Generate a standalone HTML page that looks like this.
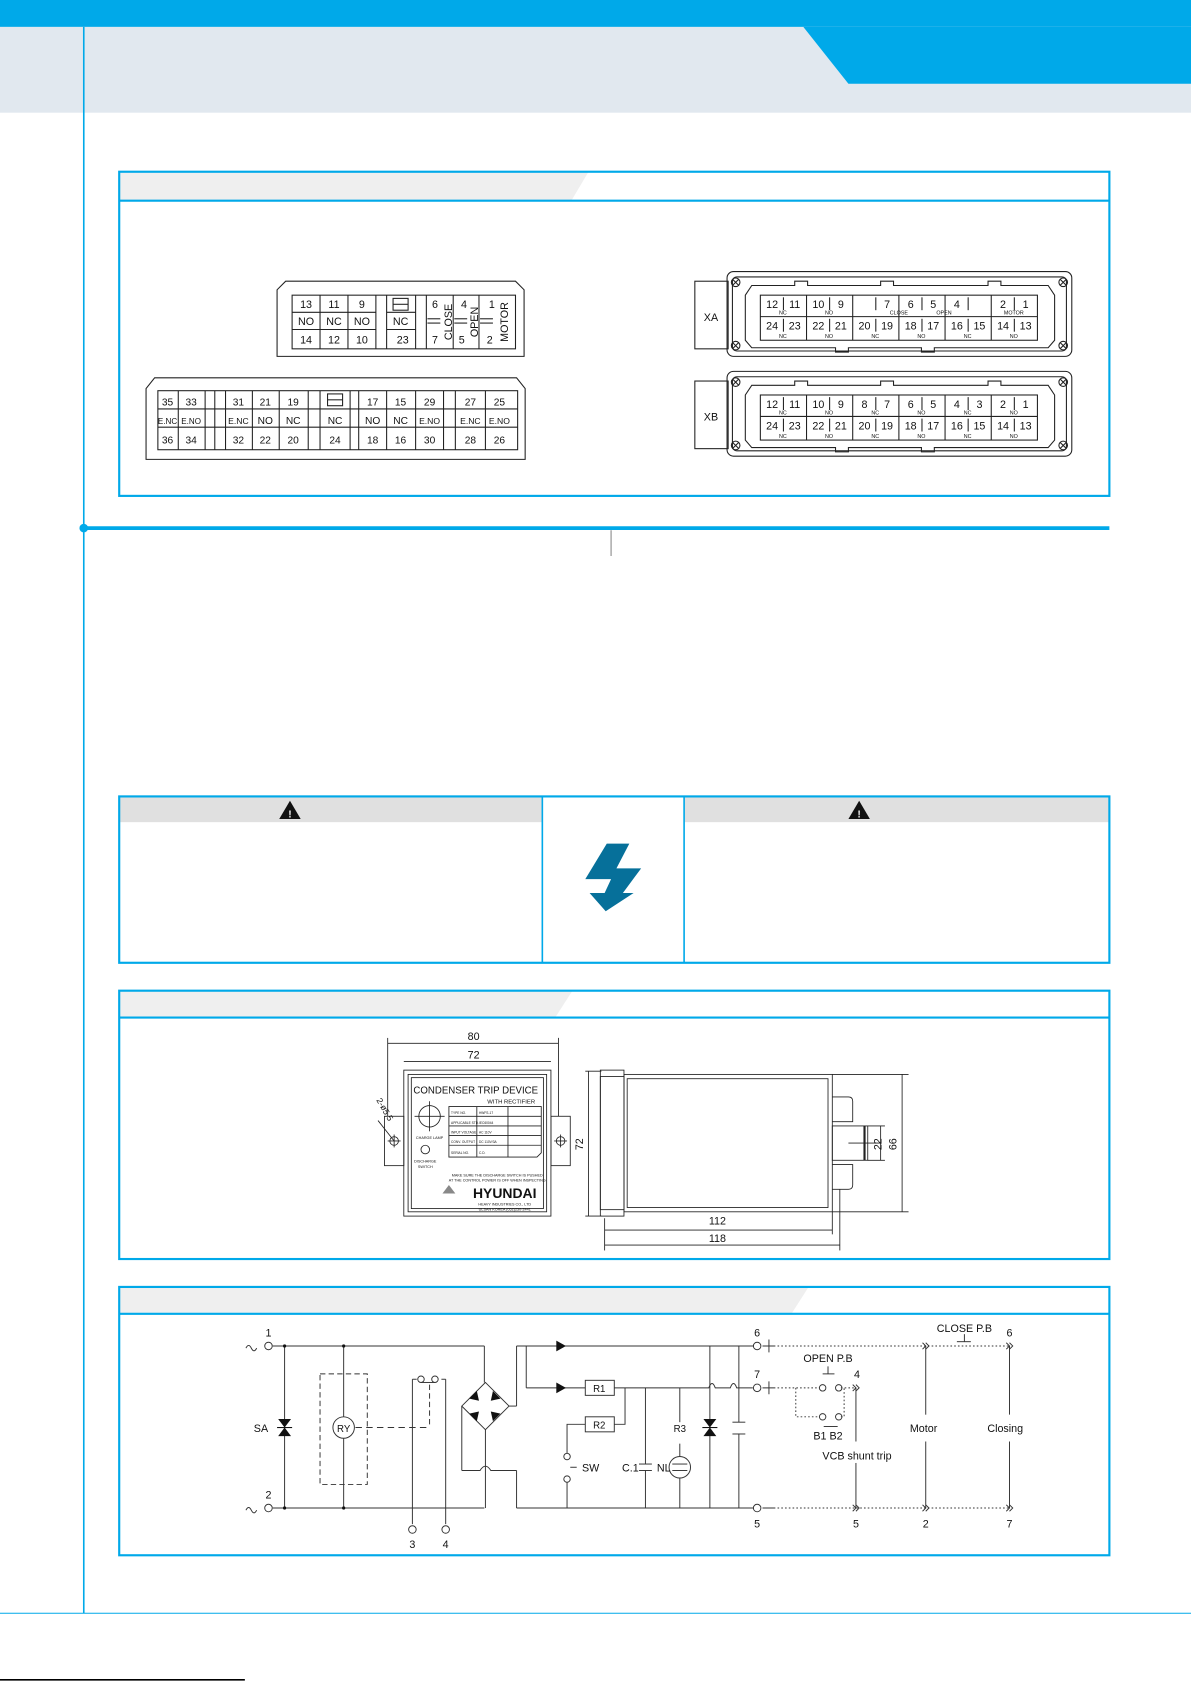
<!DOCTYPE html>
<html><head><meta charset="utf-8"><style>
html,body{margin:0;padding:0;background:#fff;}
svg{display:block;}
text{font-family:"Liberation Sans",sans-serif;fill:#111;}
</style></head><body>
<svg width="1191" height="1683" viewBox="0 0 1109 1568" preserveAspectRatio="none" xmlns="http://www.w3.org/2000/svg">
<rect x="0" y="0" width="1109" height="105" fill="#e1e8ef"/>
<rect x="0" y="0" width="1109" height="25" fill="#00a9e9"/>
<polygon points="748,25 1109,25 1109,78 790,78" fill="#00a9e9"/>
<line x1="78" y1="25" x2="78" y2="1503" stroke="#00a9e9" stroke-width="1.5"/>
<line x1="0" y1="1503" x2="1109" y2="1503" stroke="#00a9e9" stroke-width="1"/>
<line x1="0" y1="1565" x2="228" y2="1565" stroke="#000" stroke-width="1.5"/>

<polygon points="111,160 548,160 532,187 111,187" fill="#efefef"/>
<rect x="111" y="160" width="922" height="302" fill="none" stroke="#00a9e9" stroke-width="2"/>
<line x1="111" y1="187" x2="1033" y2="187" stroke="#00a9e9" stroke-width="2"/>

<g stroke="#222" fill="none" stroke-width="1">
<polygon points="258,332 258,270 266,262 480,262 488,270 488,332"/>
<rect x="272" y="275" width="208" height="50"/>
<line x1="272" y1="291" x2="350" y2="291"/><line x1="272" y1="307" x2="350" y2="307"/>
<line x1="360" y1="291" x2="387" y2="291"/><line x1="360" y1="307" x2="387" y2="307"/>
<line x1="298" y1="275" x2="298" y2="325"/><line x1="324" y1="275" x2="324" y2="325"/><line x1="350" y1="275" x2="350" y2="325"/>
<line x1="360" y1="275" x2="360" y2="325"/><line x1="387" y1="275" x2="387" y2="325"/><line x1="397" y1="275" x2="397" y2="325"/>
<line x1="422" y1="275" x2="422" y2="325"/><line x1="446" y1="275" x2="446" y2="325"/>
<rect x="366" y="278" width="14" height="11"/><line x1="366" y1="283.5" x2="380" y2="283.5"/>
<line x1="398" y1="297" x2="410" y2="297"/><line x1="398" y1="301" x2="410" y2="301"/>
<line x1="423" y1="297" x2="435" y2="297"/><line x1="423" y1="301" x2="435" y2="301"/>
<line x1="447" y1="297" x2="459" y2="297"/><line x1="447" y1="301" x2="459" y2="301"/>
<polygon points="136,428 136,362 144,352 481,352 489,362 489,428"/>
<rect x="147" y="364" width="335" height="55"/>
<line x1="147" y1="381" x2="482" y2="381"/><line x1="147" y1="398" x2="482" y2="398"/>
<line x1="166" y1="364" x2="166" y2="419"/><line x1="191" y1="364" x2="191" y2="419"/><line x1="200" y1="364" x2="200" y2="419"/>
<line x1="210" y1="364" x2="210" y2="419"/><line x1="235" y1="364" x2="235" y2="419"/><line x1="260" y1="364" x2="260" y2="419"/>
<line x1="287" y1="364" x2="287" y2="419"/><line x1="298" y1="364" x2="298" y2="419"/><line x1="326" y1="364" x2="326" y2="419"/>
<line x1="334" y1="364" x2="334" y2="419"/><line x1="360" y1="364" x2="360" y2="419"/><line x1="387" y1="364" x2="387" y2="419"/>
<line x1="413" y1="364" x2="413" y2="419"/><line x1="424" y1="364" x2="424" y2="419"/><line x1="452" y1="364" x2="452" y2="419"/>
<rect x="305" y="367" width="14" height="11"/><line x1="305" y1="372.5" x2="319" y2="372.5"/>
</g>
<g font-size="10" text-anchor="middle">
<text x="285" y="287">13</text><text x="311" y="287">11</text><text x="337" y="287">9</text>
<text x="285" y="303">NO</text><text x="311" y="303">NC</text><text x="337" y="303">NO</text><text x="373" y="303">NC</text>
<text x="285" y="320">14</text><text x="311" y="320">12</text><text x="337" y="320">10</text><text x="375" y="320">23</text>
<text x="405" y="287">6</text><text x="405" y="320">7</text><text x="432" y="287">4</text><text x="430" y="320">5</text><text x="458" y="287">1</text><text x="456" y="320">2</text>
<text transform="translate(421,300) rotate(-90)">CLOSE</text>
<text transform="translate(445,300) rotate(-90)">OPEN</text>
<text transform="translate(473,300) rotate(-90)">MOTOR</text>
</g>
<g font-size="9.5" text-anchor="middle">
<text x="156" y="378">35</text><text x="178" y="378">33</text><text x="222" y="378">31</text><text x="247" y="378">21</text><text x="273" y="378">19</text>
<text x="347" y="378">17</text><text x="373" y="378">15</text><text x="400" y="378">29</text><text x="438" y="378">27</text><text x="465" y="378">25</text>
<text x="156" y="395" font-size="7.5">E.NC</text><text x="178" y="395" font-size="7.5">E.NO</text><text x="222" y="395" font-size="8">E.NC</text><text x="247" y="395">NO</text><text x="273" y="395">NC</text><text x="312" y="395">NC</text>
<text x="347" y="395">NO</text><text x="373" y="395">NC</text><text x="400" y="395" font-size="8">E.NO</text><text x="438" y="395" font-size="8">E.NC</text><text x="465" y="395" font-size="8">E.NO</text>
<text x="156" y="413">36</text><text x="178" y="413">34</text><text x="222" y="413">32</text><text x="247" y="413">22</text><text x="273" y="413">20</text><text x="312" y="413">24</text>
<text x="347" y="413">18</text><text x="373" y="413">16</text><text x="400" y="413">30</text><text x="438" y="413">28</text><text x="465" y="413">26</text>
</g>

<defs>
<g id="body" stroke="#222" fill="none" stroke-width="1">
<rect x="647" y="262" width="31" height="63"/>
<rect x="677" y="253" width="321" height="79" rx="6"/>
<rect x="682" y="258" width="311" height="69" rx="4"/>
<polygon points="700,266 740,266 740,262 752,262 752,266 820,266 820,262 832,262 832,266 920,266 920,262 932,262 932,266 976,266 982,275 982,317 976,324 870,324 870,328 858,328 858,324 790,324 790,328 778,328 778,324 700,324 694,317 694,275"/>
<rect x="708" y="275" width="258" height="42"/>
<line x1="708" y1="295" x2="966" y2="295"/>
<line x1="751" y1="275" x2="751" y2="317"/><line x1="794" y1="275" x2="794" y2="317"/><line x1="837" y1="275" x2="837" y2="317"/><line x1="880" y1="275" x2="880" y2="317"/><line x1="923" y1="275" x2="923" y2="317"/>
<line x1="729.5" y1="277" x2="729.5" y2="289"/><line x1="772.5" y1="277" x2="772.5" y2="289"/><line x1="815.5" y1="277" x2="815.5" y2="289"/><line x1="858.5" y1="277" x2="858.5" y2="289"/><line x1="901.5" y1="277" x2="901.5" y2="289"/><line x1="944.5" y1="277" x2="944.5" y2="289"/>
<line x1="729.5" y1="297" x2="729.5" y2="309"/><line x1="772.5" y1="297" x2="772.5" y2="309"/><line x1="815.5" y1="297" x2="815.5" y2="309"/><line x1="858.5" y1="297" x2="858.5" y2="309"/><line x1="901.5" y1="297" x2="901.5" y2="309"/><line x1="944.5" y1="297" x2="944.5" y2="309"/>
<circle cx="685" cy="263" r="4"/><circle cx="990" cy="263" r="4"/><circle cx="685" cy="322" r="4"/><circle cx="990" cy="322" r="4"/>
<path d="M682,260 l6,6 M688,260 l-6,6 M987,260 l6,6 M993,260 l-6,6 M682,319 l6,6 M688,319 l-6,6 M987,319 l6,6 M993,319 l-6,6"/>
</g>
<g id="bot" font-size="10" text-anchor="middle">
<text x="719" y="307">24</text><text x="740" y="307">23</text><text x="762" y="307">22</text><text x="783" y="307">21</text><text x="805" y="307">20</text><text x="826" y="307">19</text><text x="848" y="307">18</text><text x="869" y="307">17</text><text x="891" y="307">16</text><text x="912" y="307">15</text><text x="934" y="307">14</text><text x="955" y="307">13</text>
<g font-size="5"><text x="729" y="315">NC</text><text x="772" y="315">NO</text><text x="815" y="315">NC</text><text x="858" y="315">NO</text><text x="901" y="315">NC</text><text x="944" y="315">NO</text></g>
</g>
</defs>
<use href="#body"/><use href="#bot"/>
<g transform="translate(0,93)"><use href="#body"/><use href="#bot"/></g>
<text x="662" y="299" font-size="10" text-anchor="middle">XA</text>
<text x="662" y="392" font-size="10" text-anchor="middle">XB</text>
<g font-size="10" text-anchor="middle">
<text x="719" y="287">12</text><text x="740" y="287">11</text><text x="762" y="287">10</text><text x="783" y="287">9</text><text x="826" y="287">7</text><text x="848" y="287">6</text><text x="869" y="287">5</text><text x="891" y="287">4</text><text x="934" y="287">2</text><text x="955" y="287">1</text>
<g font-size="5"><text x="729" y="293">NC</text><text x="772" y="293">NO</text><text x="837" y="293">CLOSE</text><text x="879" y="293">OPEN</text><text x="944" y="293">MOTOR</text></g>
<text x="719" y="380">12</text><text x="740" y="380">11</text><text x="762" y="380">10</text><text x="783" y="380">9</text><text x="805" y="380">8</text><text x="826" y="380">7</text><text x="848" y="380">6</text><text x="869" y="380">5</text><text x="891" y="380">4</text><text x="912" y="380">3</text><text x="934" y="380">2</text><text x="955" y="380">1</text>
<g font-size="5"><text x="729" y="386">NC</text><text x="772" y="386">NO</text><text x="815" y="386">NC</text><text x="858" y="386">NO</text><text x="901" y="386">NC</text><text x="944" y="386">NO</text></g>
</g>

<line x1="78" y1="492" x2="1033" y2="492" stroke="#00a9e9" stroke-width="3.5"/>
<circle cx="78" cy="492" r="4" fill="#00a9e9"/>
<line x1="569" y1="494" x2="569" y2="518" stroke="#888" stroke-width="1"/>

<rect x="111" y="742" width="394" height="24" fill="#e0e0e0"/>
<rect x="637" y="742" width="396" height="24" fill="#e0e0e0"/>
<rect x="111" y="742" width="922" height="155" fill="none" stroke="#00a9e9" stroke-width="2"/>
<line x1="505" y1="742" x2="505" y2="897" stroke="#00a9e9" stroke-width="1.5"/>
<line x1="637" y1="742" x2="637" y2="897" stroke="#00a9e9" stroke-width="1.5"/>
<polygon points="270,746 280,763 260,763" fill="#111"/><text x="270" y="761.5" font-size="9" text-anchor="middle" style="fill:#fff;font-weight:bold">!</text>
<polygon points="800,746 810,763 790,763" fill="#111"/><text x="800" y="761.5" font-size="9" text-anchor="middle" style="fill:#fff;font-weight:bold">!</text>
<polygon points="565,786 586,786 574,809 597,809 580,832 590,832 564,849 549,832 563,832 569,819 545,819" fill="#06709a"/>

<polygon points="111,923 533,923 517,948 111,948" fill="#efefef"/>
<rect x="111" y="923" width="922" height="250" fill="none" stroke="#00a9e9" stroke-width="2"/>
<line x1="111" y1="948" x2="1033" y2="948" stroke="#00a9e9" stroke-width="2"/>
<g stroke="#222" fill="none" stroke-width="0.8">
<line x1="361" y1="972" x2="520" y2="972"/><line x1="361" y1="967" x2="361" y2="1040"/><line x1="520" y1="967" x2="520" y2="1040"/>
<line x1="376" y1="989" x2="513" y2="989"/>
<rect x="358" y="1040" width="18" height="46"/><rect x="513" y="1040" width="18" height="46"/>
<rect x="376" y="997" width="137" height="136"/>
<rect x="380" y="1001" width="129" height="128"/><rect x="383" y="1004" width="123" height="122"/>
<circle cx="367" cy="1063" r="4"/><circle cx="522" cy="1063" r="4"/>
<line x1="361" y1="1063" x2="373" y2="1063"/><line x1="367" y1="1057" x2="367" y2="1069"/><line x1="516" y1="1063" x2="528" y2="1063"/><line x1="522" y1="1057" x2="522" y2="1069"/>
<line x1="352" y1="1044" x2="367" y2="1063"/>
<circle cx="400" cy="1040" r="10"/><line x1="386" y1="1040" x2="414" y2="1040"/><line x1="400" y1="1026" x2="400" y2="1054"/>
<circle cx="396" cy="1071" r="4"/>
<path d="M418,1031 H473 V1078 H418 Z M418,1040 H473 M418,1049 H473 M418,1058 H473 M418,1067 H473 M444,1031 V1078 M473,1031 H504 V1074 L500,1078 H473"/>
<line x1="473" y1="1040" x2="504" y2="1040"/><line x1="473" y1="1049" x2="504" y2="1049"/><line x1="473" y1="1058" x2="504" y2="1058"/><line x1="473" y1="1067" x2="504" y2="1067"/>
<line x1="548" y1="998" x2="548" y2="1133"/><line x1="545" y1="998" x2="560" y2="998"/><line x1="545" y1="1133" x2="560" y2="1133"/>
<rect x="559" y="997" width="22" height="136"/><rect x="559" y="1003" width="22" height="124"/>
<rect x="581" y="1001" width="194" height="128"/><rect x="584" y="1005" width="187" height="120"/>
<path d="M775,1022 H790 Q794,1022 794,1026 V1045 H775"/><path d="M775,1085 H794 V1104 Q794,1108 790,1108 H775"/>
<rect x="775" y="1049" width="33" height="32"/><line x1="805" y1="1049" x2="805" y2="1081" stroke-width="2"/>
<line x1="775" y1="1001" x2="846" y2="1001"/><line x1="775" y1="1129" x2="846" y2="1129"/><line x1="840" y1="1001" x2="840" y2="1129"/>
<line x1="808" y1="1049" x2="824" y2="1049"/><line x1="808" y1="1081" x2="824" y2="1081"/><line x1="820" y1="1049" x2="820" y2="1081"/><line x1="790" y1="1065" x2="820" y2="1065"/>
<line x1="563" y1="1135" x2="563" y2="1165"/><line x1="775" y1="1129" x2="775" y2="1150"/><line x1="782" y1="1108" x2="782" y2="1165"/>
<line x1="563" y1="1146" x2="775" y2="1146"/><line x1="563" y1="1160" x2="782" y2="1160"/>
</g>
<g text-anchor="middle">
<text x="441" y="969" font-size="10">80</text><text x="441" y="986" font-size="10">72</text>
<text x="443" y="1019" font-size="9">CONDENSER TRIP DEVICE</text>
<text x="476" y="1028" font-size="5.5">WITH RECTIFIER</text>
<text x="400" y="1061" font-size="3.5">CHARGE LAMP</text><text x="396" y="1083" font-size="3.5">DISCHARGE</text><text x="396" y="1088" font-size="3.5">SWITCH</text>
<text x="463" y="1096" font-size="3.5">MAKE SURE THE DISCHARGE SWITCH IS PUSHED</text>
<text x="463" y="1101" font-size="3.5">AT THE CONTROL POWER IS OFF WHEN INSPECTING</text>
<text x="470" y="1116" font-size="13" font-weight="bold">HYUNDAI</text>
<text x="470" y="1123" font-size="3.5">HEAVY INDUSTRIES CO., LTD</text><text x="470" y="1128" font-size="3.5">ULSAN KOREA (052)230-2441</text>
<text x="668" y="1141" font-size="10">112</text><text x="668" y="1157" font-size="10">118</text>
<text transform="translate(543,1066) rotate(-90)" font-size="10">72</text>
<text transform="translate(821,1066) rotate(-90)" font-size="10">22</text>
<text transform="translate(835,1066) rotate(-90)" font-size="10">66</text>
<text transform="translate(356,1035) rotate(60)" font-size="8">2-ø5.5</text>
</g>
<g font-size="3">
<text x="420" y="1038">TYPE NO.</text><text x="446" y="1038">HWFS-17</text>
<text x="420" y="1047">APPLICABLE STD.</text><text x="446" y="1047">IEC60044</text>
<text x="420" y="1056">INPUT VOLTAGE</text><text x="446" y="1056">AC 110V</text>
<text x="420" y="1065">CONV. OUTPUT</text><text x="446" y="1065">DC 110V/3A</text>
<text x="420" y="1075">SERIAL NO.</text><text x="446" y="1075">C.D.</text>
</g>
<polygon points="412,1112 418,1104 424,1112" fill="#888"/>

<polygon points="111,1199 753,1199 737,1224 111,1224" fill="#efefef"/>
<rect x="111" y="1199" width="922" height="250" fill="none" stroke="#00a9e9" stroke-width="2"/>
<line x1="111" y1="1224" x2="1033" y2="1224" stroke="#00a9e9" stroke-width="2"/>
<g stroke="#333" fill="none" stroke-width="0.9">
<circle cx="250" cy="1254" r="3.5"/><circle cx="250" cy="1405" r="3.5"/>
<path d="M229,1256 q2.5,-5 5,0 q2.5,5 5,0"/><path d="M229,1407 q2.5,-5 5,0 q2.5,5 5,0"/>
<line x1="254" y1="1254" x2="451" y2="1254"/><line x1="254" y1="1405" x2="451" y2="1405"/>
<line x1="265" y1="1254" x2="265" y2="1405"/>
<rect x="298" y="1280" width="44" height="103" stroke-dasharray="5,3"/>
<line x1="320" y1="1254" x2="320" y2="1320"/><line x1="320" y1="1340" x2="320" y2="1405"/>
<circle cx="320" cy="1330" r="10"/>
<line x1="331" y1="1330" x2="399" y2="1330" stroke-dasharray="6,4"/>
<line x1="400" y1="1290" x2="400" y2="1330" stroke-dasharray="5,3"/>
<line x1="384" y1="1285" x2="384" y2="1420"/><line x1="415" y1="1285" x2="415" y2="1420"/>
<line x1="384" y1="1285" x2="388" y2="1285"/><line x1="411" y1="1285" x2="415" y2="1285"/>
<circle cx="392" cy="1285" r="3"/><circle cx="405" cy="1285" r="3"/><line x1="392" y1="1288" x2="405" y2="1288"/>
<circle cx="384" cy="1425" r="3.5" fill="#fff"/><circle cx="415" cy="1425" r="3.5" fill="#fff"/>
<line x1="451" y1="1254" x2="451" y2="1288"/>
<polygon points="452,1288 474,1310 452,1332 430,1310"/>
<line x1="452" y1="1332" x2="452" y2="1405"/>
<line x1="430" y1="1310" x2="430" y2="1370"/><path d="M430,1370 H447 q5,-8 10,0 H481"/>
<line x1="474" y1="1310" x2="481" y2="1310"/><line x1="481" y1="1310" x2="481" y2="1254"/>
<line x1="481" y1="1370" x2="481" y2="1405"/>
<line x1="481" y1="1254" x2="702" y2="1254"/><line x1="481" y1="1405" x2="702" y2="1405"/>
<line x1="490" y1="1254" x2="490" y2="1293"/><line x1="490" y1="1293" x2="545" y2="1293"/>
<rect x="545" y="1286" width="27" height="14"/><rect x="545" y="1320" width="27" height="14"/>
<path d="M572,1293 H660 q3,-8 6,0 H680 q3,-8 6,0 H701"/>
<path d="M582,1293 V1327 H572"/><path d="M545,1327 H528 V1354"/>
<circle cx="528" cy="1357" r="3"/><circle cx="528" cy="1378" r="3"/><line x1="528" y1="1381" x2="528" y2="1405"/>
<line x1="531" y1="1367" x2="537" y2="1367"/>
<line x1="601" y1="1293" x2="601" y2="1364"/><line x1="601" y1="1370" x2="601" y2="1405"/><line x1="595" y1="1364" x2="607" y2="1364"/><line x1="595" y1="1370" x2="607" y2="1370"/>
<line x1="633" y1="1293" x2="633" y2="1325"/><line x1="633" y1="1345" x2="633" y2="1357"/><line x1="633" y1="1377" x2="633" y2="1405"/>
<circle cx="633" cy="1367" r="10"/><line x1="626" y1="1364" x2="640" y2="1364"/><line x1="626" y1="1370" x2="640" y2="1370"/>
<line x1="661" y1="1254" x2="661" y2="1405"/>
<line x1="688" y1="1254" x2="688" y2="1325"/><line x1="688" y1="1336" x2="688" y2="1405"/><line x1="682" y1="1325" x2="694" y2="1325"/><line x1="682" y1="1336" x2="694" y2="1336"/>
<circle cx="705" cy="1254" r="3.5"/><circle cx="705" cy="1293" r="3.5"/><circle cx="705" cy="1405" r="3.5"/>
<path d="M710,1254 H722 M716,1248 V1260 M710,1293 H722 M716,1287 V1299 M710,1405 H722"/>
<g stroke-dasharray="1.5,2">
<line x1="724" y1="1254" x2="940" y2="1254"/><line x1="724" y1="1405" x2="940" y2="1405"/>
<line x1="724" y1="1293" x2="763" y2="1293"/><line x1="783" y1="1293" x2="797" y2="1293"/>
<path d="M741,1293 V1320 H763 M783,1320 H786 V1293"/>
</g>
<circle cx="766" cy="1293" r="3"/><circle cx="781" cy="1293" r="3"/>
<circle cx="766" cy="1320" r="3"/><circle cx="781" cy="1320" r="3"/>
<line x1="767" y1="1329" x2="780" y2="1329"/>
<line x1="766" y1="1280" x2="777" y2="1280"/><line x1="771" y1="1273" x2="771" y2="1280"/>
<line x1="891" y1="1250" x2="904" y2="1250"/><line x1="898" y1="1243" x2="898" y2="1250"/>
<line x1="797" y1="1293" x2="797" y2="1343"/><line x1="797" y1="1363" x2="797" y2="1405"/>
<line x1="862" y1="1254" x2="862" y2="1318"/><line x1="862" y1="1343" x2="862" y2="1405"/>
<line x1="940" y1="1254" x2="940" y2="1318"/><line x1="940" y1="1343" x2="940" y2="1405"/>
<path d="M794,1290 l3,3 l-3,3 M797,1290 l3,3 l-3,3 M794,1402 l3,3 l-3,3 M797,1402 l3,3 l-3,3 M859,1251 l3,3 l-3,3 M862,1251 l3,3 l-3,3 M859,1402 l3,3 l-3,3 M862,1402 l3,3 l-3,3 M937,1251 l3,3 l-3,3 M940,1251 l3,3 l-3,3 M937,1402 l3,3 l-3,3 M940,1402 l3,3 l-3,3"/>
</g>
<g fill="#111">
<circle cx="265" cy="1254" r="1.5"/><circle cx="265" cy="1405" r="1.5"/><circle cx="320" cy="1254" r="1.5"/><circle cx="320" cy="1405" r="1.5"/>
<polygon points="259,1322 265,1330 271,1322"/><polygon points="259,1338 265,1330 271,1338"/><line x1="258" y1="1330" x2="272" y2="1330" stroke="#111"/>
<polygon points="518,1249 518,1259 527,1254"/><polygon points="518,1288 518,1298 527,1293"/>
<polygon points="655,1322 661,1330 667,1322"/><polygon points="655,1338 661,1330 667,1338"/><line x1="654" y1="1330" x2="668" y2="1330" stroke="#111"/>
<polygon points="437,1303 444,1296 446,1305"/><polygon points="459,1296 466,1303 457,1305"/><polygon points="437,1317 446,1315 444,1324"/><polygon points="466,1317 459,1324 457,1315"/>
</g>
<g font-size="10" text-anchor="middle">
<text x="250" y="1245">1</text><text x="250" y="1396">2</text><text x="243" y="1334">SA</text>
<text x="320" y="1334" font-size="9">RY</text>
<text x="384" y="1442">3</text><text x="415" y="1442">4</text>
<text x="558" y="1297" font-size="9">R1</text><text x="558" y="1331" font-size="9">R2</text>
<text x="550" y="1371">SW</text><text x="587" y="1371">C.1</text><text x="618" y="1371">NL</text><text x="633" y="1334" font-size="9">R3</text>
<text x="705" y="1245">6</text><text x="705" y="1284">7</text><text x="705" y="1423">5</text>
<text x="771" y="1269">OPEN P.B</text><text x="798" y="1284">4</text><text x="771" y="1341">B1 B2</text>
<text x="798" y="1360">VCB shunt trip</text><text x="797" y="1423">5</text>
<text x="860" y="1334">Motor</text><text x="862" y="1423">2</text>
<text x="936" y="1334">Closing</text><text x="940" y="1245">6</text><text x="940" y="1423">7</text>
<text x="898" y="1241">CLOSE P.B</text>
</g>
</svg>
</body></html>
